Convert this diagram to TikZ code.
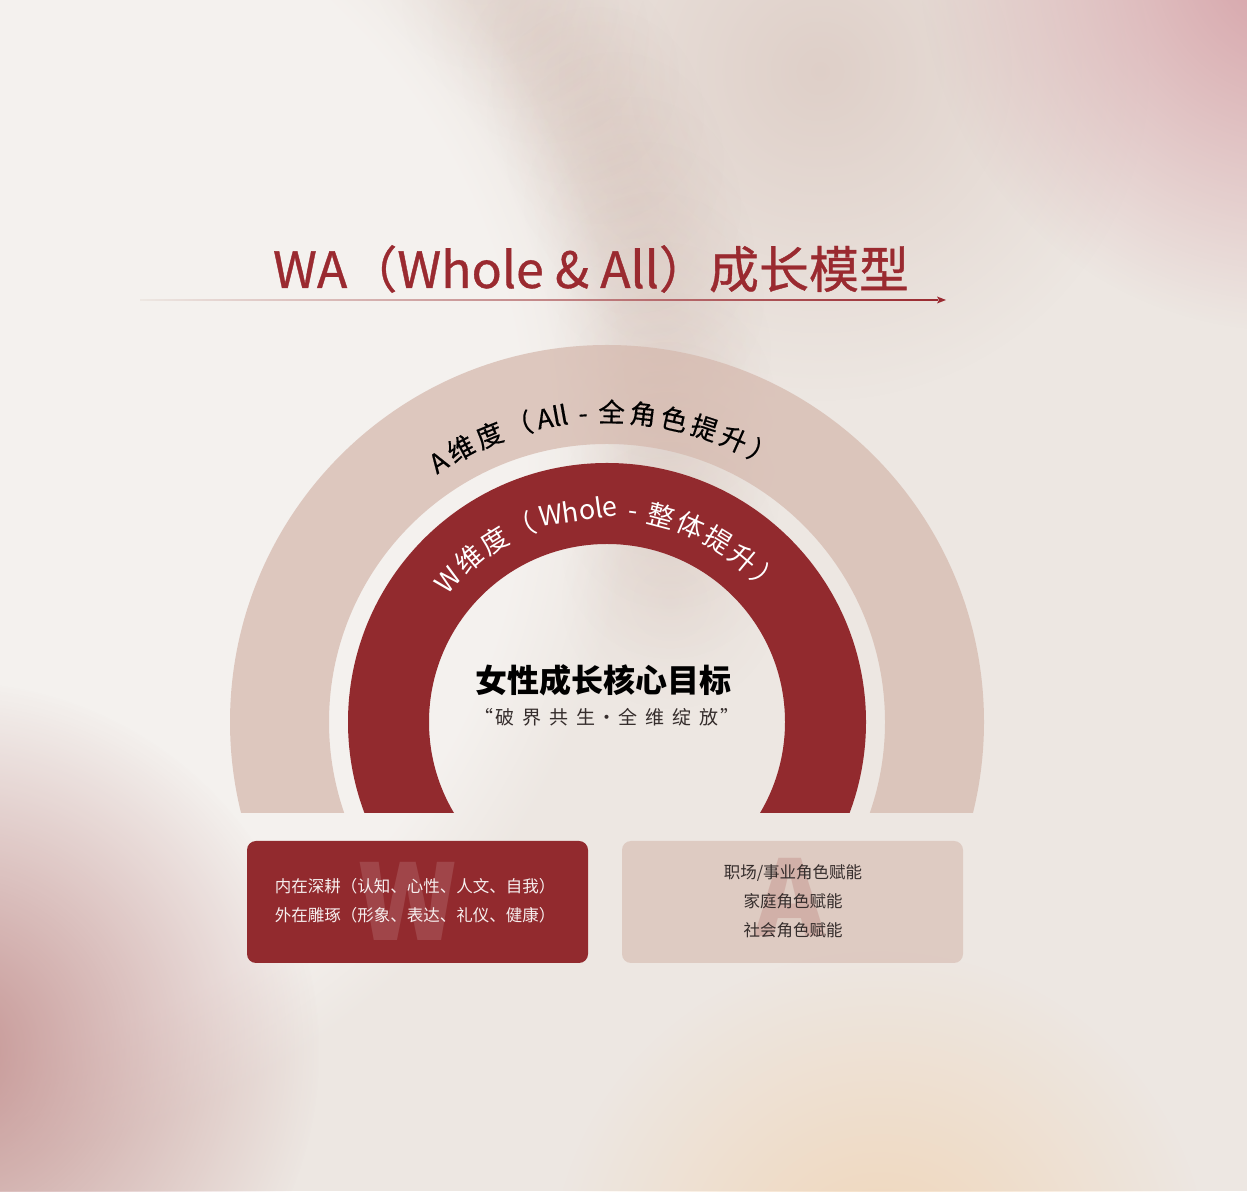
\documentclass[tikz,border=0pt]{standalone}
\usepackage{fontspec}
\setmainfont{Noto Sans CJK SC}
\newfontfamily\medfont[FakeBold=0.7]{Noto Sans CJK SC}
\newfontfamily\semifont[FakeBold=0.4]{Noto Sans CJK SC}
\usetikzlibrary{decorations.text,fadings}
\definecolor{bgc}{HTML}{EDE7E2}
\definecolor{redc}{HTML}{922A2E}
\definecolor{titlec}{HTML}{9A2A30}
\definecolor{tanc}{HTML}{D6BAAF}
\definecolor{pinkc}{HTML}{D49CA3}
\definecolor{mauvec}{HTML}{C28F8E}
\definecolor{peachc}{HTML}{F1D3B2}
\definecolor{shadowc}{HTML}{C4A398}
\definecolor{textc}{HTML}{352D2C}
\tikzfading[name=softblob, inner color=transparent!0, outer color=transparent!100]
\newcommand{\lsp}{\hspace{8pt}}
\newcommand{\lss}{\hspace{2pt}}
\begin{document}
\begin{tikzpicture}[x=1pt,y=1pt,
  boxbase/.style={rounded corners=9pt, minimum width=341pt, minimum height=122pt, inner sep=0pt},
  redbox/.style={boxbase, fill=redc},
  tanbox/.style={boxbase, fill=tanc, fill opacity=0.62},
  boxtext/.style={font=\fontsize{16.5}{29}\selectfont, align=center},
  bigletter/.style={font=\fontsize{105}{105}\selectfont\bfseries},
  shadowdot/.style={shadowc, opacity=0.12, path fading=softblob}
]
\useasboundingbox (0,0) rectangle (1247,1191);
% ---------- background ----------
\fill[bgc] (0,0) rectangle (1247,1191);
\begin{scope}
\clip (0,0) rectangle (1247,1191);
\fill[shadowc, opacity=0.35, path fading=softblob] (820,1120) circle (330);
\fill[pinkc, opacity=0.95, path fading=softblob] (1290,1230) circle (370);
\fill[peachc, opacity=0.9, path fading=softblob] (880,-90) circle (330);
\foreach \px/\py in {480/-40, 510/0, 540/35, 570/75, 595/115, 615/160, 632/205, 645/250,
                     655/300, 662/350, 666/400, 668/450, 670/500, 670/550, 670/600}
  \fill[shadowdot] (\px,{1191-\py}) circle (110);
\fill[white, opacity=0.42, path fading=circle with fuzzy edge 15 percent] (-83,741) circle (715);
\fill[mauvec, opacity=0.95, path fading=softblob] (-50,140) circle (370);
\end{scope}
% ---------- title ----------
\node[anchor=base, text=titlec, font=\fontsize{50}{50}\medfont] (title) at (591,903)
  {WA（Whole \& All）成长模型};
\coordinate (tip) at (946,891);
\shade[left color=bgc, right color=titlec] (140,890.4) rectangle (938,891.6);
\fill[titlec] (tip) -- (937,894.5) -- (939,891) -- (937,887.5) -- cycle;
% ---------- rings ----------
\coordinate (ctr) at (607,469);
\begin{scope}
\clip (0,378) rectangle (1247,1191);
\fill[tanc, opacity=0.75, even odd rule] (ctr) circle (377) (ctr) circle (278);
\fill[redc, even odd rule] (ctr) circle (259) (ctr) circle (178);
\end{scope}
\path[decorate, decoration={text along path, text align=fit to path,
  text={|\fontsize{26.5}{26.5}\semifont\color{black}|A维度（{All}{ - }全角色提升）}}]
  (ctr) ++(124.5:300) arc[start angle=124.5, end angle=57.5, radius=300];
\path[decorate, decoration={text along path, text align=fit to path,
  text={|\fontsize{27}{27}\selectfont\color{white}|W维度（{Whole}{ - }整体提升）}}]
  (ctr) ++(141.5:203) arc[start angle=141.5, end angle=38, radius=203];
% ---------- centre ----------
\node[font=\fontsize{32}{32}\selectfont\bfseries, text=black] (goal) at (603,511) {女性成长核心目标};
\node[font=\fontsize{19}{19}\selectfont, text=textc] (motto) at (607,474)
  {“\lss 破\lsp 界\lsp 共\lsp 生\lss ·\lss 全\lsp 维\lsp 绽\lsp 放\lss ”};
% ---------- boxes ----------
\node[redbox] (wbox) at (417.5,289) {};
\node[tanbox] (abox) at (792.5,289) {};
\node[bigletter, text=white, text opacity=0.13] (wmark) at (408,290) {W};
\node[bigletter, text=tanc!75!redc, text opacity=0.5] (amark) at (790,294) {A};
\node[boxtext, text=white!92!redc] (wtext) at (415,290)
  {内在深耕（认知、心性、人文、自我）\\外在雕琢（形象、表达、礼仪、健康）};
\node[boxtext, text=textc] (atext) at (793,290)
  {职场/事业角色赋能\\家庭角色赋能\\社会角色赋能};
\end{tikzpicture}
\end{document}
